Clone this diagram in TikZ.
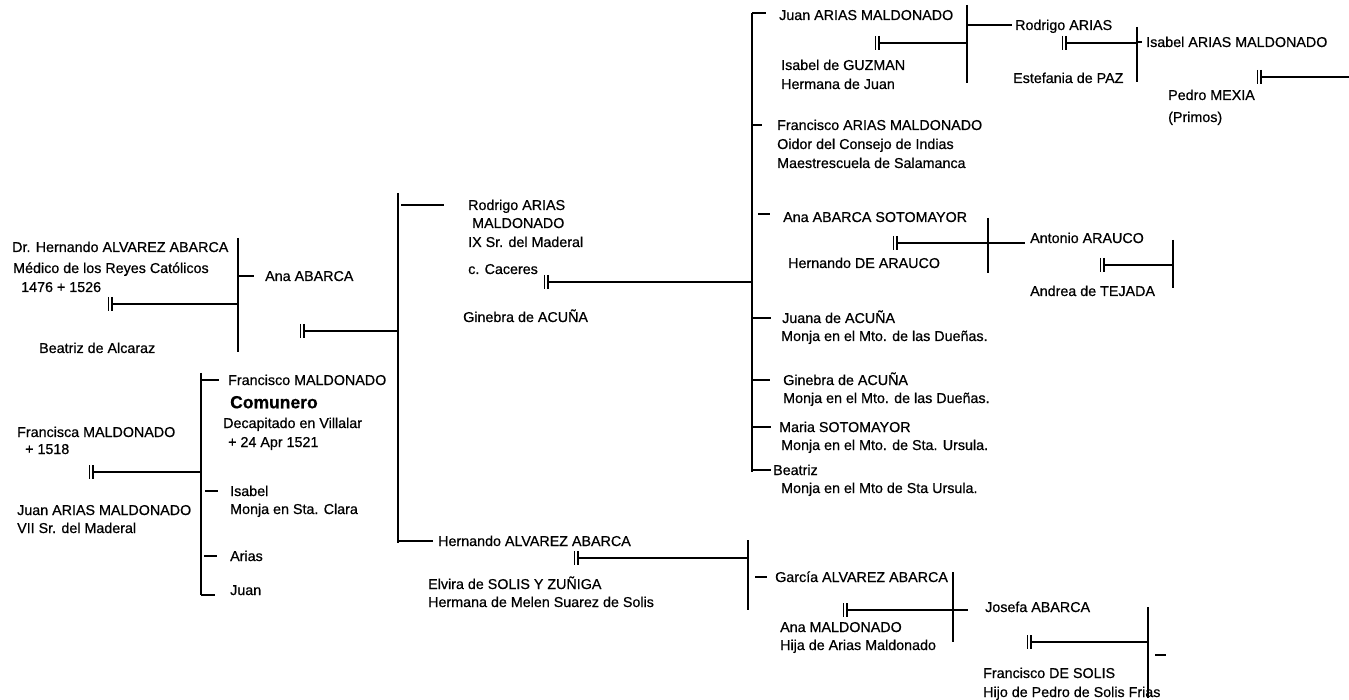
\documentclass[tikz,border=0pt]{standalone}
\usepackage{fontspec}
\setmainfont{Liberation Sans}[FakeBold=0.6]
\begin{document}
\begin{tikzpicture}[x=1pt,y=-1pt,
  t/.style={anchor=west,inner sep=0pt,font=\fontsize{14.3}{16}\selectfont,text height=10pt,text depth=0pt},
  big/.style={anchor=west,inner sep=0pt,font=\fontsize{17.5}{19}\selectfont\bfseries,text height=12.5pt,text depth=0pt},
  ln/.style={line width=1.1pt},
  vb/.style={line width=1.4pt},
  marr/.pic={\draw[line width=1.1pt] (-3.5,-7)--(-3.5,7) (0,-7)--(0,7);}]
\useasboundingbox[fill=white] (0,0) rectangle (1349,700);

% ---------------- left top: Hernando + Beatriz -> Ana ABARCA
\node[t] (hern1) at (12,247) {Dr. Hernando ALVAREZ ABARCA};
\node[t] (hern2) at (13,268) {Médico de los Reyes Católicos};
\node[t] (hern3) at (21,287) {1476 + 1526};
\node[t] (beat) at (39,348) {Beatriz de Alcaraz};
\coordinate (m1) at (112,304);
\pic at (m1) {marr};
\coordinate (v1t) at (238,238);
\coordinate (v1b) at (238,352);
\draw[vb] (v1t) -- (v1b);
\draw[ln] (m1) -- (m1 -| v1t);
\node[t] (anaA) at (265,276) {Ana ABARCA};
\draw[ln] (anaA.west -| v1t) -- ++(16,0);

% ---------------- Ana ABARCA marriage -> children vertical at 398
\coordinate (m2) at (304,331);
\pic at (m2) {marr};
\coordinate (v2t) at (398,193);
\coordinate (v2b) at (398,543);
\draw[vb] (v2t) -- (v2b);
\draw[ln] (m2) -- (m2 -| v2t);

% ---------------- left bottom: Francisca + Juan -> children vertical at 201
\node[t] (fca1) at (17,432) {Francisca MALDONADO};
\node[t] (fca2) at (25,449) {+ 1518};
\node[t] (jam1) at (17,510) {Juan ARIAS MALDONADO};
\node[t] (jam2) at (17,528) {VII Sr. del Maderal};
\coordinate (m3) at (93,472);
\pic at (m3) {marr};
\coordinate (v3t) at (201,373);
\coordinate (v3b) at (201,595);
\draw[vb] (v3t) -- (v3b);
\draw[ln] (m3) -- (m3 -| v3t);
\node[t] (fm1) at (228,380) {Francisco MALDONADO};
\node[big] (fm2) at (230,402) {Comunero};
\node[t] (fm3) at (223,423) {Decapitado en Villalar};
\node[t] (fm4) at (228,442) {+ 24 Apr 1521};
\draw[ln] (fm1.west -| v3t) -- ++(18,0);
\node[t] (isa1) at (230,491) {Isabel};
\node[t] (isa2) at (230,509) {Monja en Sta. Clara};
\draw[ln] (isa1.west -| v3t) ++(4,0) -- ++(13,0);
\node[t] (arias) at (230,556) {Arias};
\draw[ln] (arias.west -| v3t) ++(3,0) -- ++(13,0);
\node[t] (juan) at (230,590) {Juan};
\draw[ln] (v3b) -- ++(14,0);

% ---------------- Rodrigo ARIAS MALDONADO + Ginebra de ACUÑA
\node[t] (rod1) at (468,205) {Rodrigo ARIAS};
\node[t] (rod2) at (472,223) {MALDONADO};
\node[t] (rod3) at (468,242) {IX Sr. del Maderal};
\node[t] (rod4) at (468,269) {c. Caceres};
\node[t] (gin) at (463,317) {Ginebra de ACUÑA};
\draw[ln] (rod1.west -| v2t) ++(3,0) -- ++(43,0);
\coordinate (m4) at (548,282);
\pic at (m4) {marr};
\coordinate (v4t) at (752,13);
\coordinate (v4b) at (752,472);
\draw[vb] (v4t) -- (v4b);
\draw[ln] (m4) -- (m4 -| v4t);

% ---------------- children of Rodrigo
\node[t] (j1) at (779,15) {Juan ARIAS MALDONADO};
\draw[ln] (v4t) -- ++(14,0);
\node[t] (ig1) at (781,65) {Isabel de GUZMAN};
\node[t] (ig2) at (781,84) {Hermana de Juan};
\coordinate (m5) at (879,43);
\pic at (m5) {marr};
\coordinate (v5t) at (967,5);
\coordinate (v5b) at (967,83);
\draw[vb] (v5t) -- (v5b);
\draw[ln] (m5) -- (m5 -| v5t);
\node[t] (ra) at (1015,25) {Rodrigo ARIAS};
\draw[ln] (ra.west -| v5t) -- ([xshift=-3pt]ra.west);
\node[t] (ep) at (1013,78) {Estefania de PAZ};
\coordinate (m6) at (1066,43);
\pic at (m6) {marr};
\coordinate (v6t) at (1137,27);
\coordinate (v6b) at (1137,82);
\draw[vb] (v6t) -- (v6b);
\draw[ln] (m6) -- (m6 -| v6t);
\node[t] (iam) at (1146,42) {Isabel ARIAS MALDONADO};
\draw[ln] (iam.west -| v6t) -- ++(5,0);
\coordinate (m7) at (1261,77);
\pic at (m7) {marr};
\coordinate (e7) at (1349,77);
\draw[ln] (m7) -- (e7);
\node[t] (pm) at (1168,95) {Pedro MEXIA};
\node[t] (prim) at (1168,117) {(Primos)};

\node[t] (fam1) at (777,125) {Francisco ARIAS MALDONADO};
\node[t] (fam2) at (777,144) {Oidor del Consejo de Indias};
\node[t] (fam3) at (777,163) {Maestrescuela de Salamanca};
\draw[ln] (fam1.west -| v4t) -- ++(10,0);

\node[t] (aas) at (783,217) {Ana ABARCA SOTOMAYOR};
\draw[ln] (aas.west -| v4t) ++(6,-3) -- ++(12,0);
\node[t] (hda) at (788,263) {Hernando DE ARAUCO};
\coordinate (m8) at (897,243);
\pic at (m8) {marr};
\coordinate (v8t) at (988,218);
\coordinate (v8b) at (988,273);
\draw[vb] (v8t) -- (v8b);
\node[t] (aa) at (1030,238) {Antonio ARAUCO};
\coordinate (e8) at (1025,243);
\draw[ln] (m8) -- (e8);
\node[t] (at) at (1030,291) {Andrea de TEJADA};
\coordinate (m9) at (1104,265);
\pic at (m9) {marr};
\coordinate (v9t) at (1173,240);
\coordinate (v9b) at (1173,288);
\draw[vb] (v9t) -- (v9b);
\draw[ln] (m9) -- (m9 -| v9t);

\node[t] (ja1) at (782,318) {Juana de ACUÑA};
\node[t] (ja2) at (781,336) {Monja en el Mto. de las Dueñas.};
\draw[ln] (ja1.west -| v4t) -- ++(19,0);
\node[t] (ga1) at (783,380) {Ginebra de ACUÑA};
\node[t] (ga2) at (783,398) {Monja en el Mto. de las Dueñas.};
\draw[ln] (ga1.west -| v4t) -- ++(18,0);
\node[t] (ms1) at (779,427) {Maria SOTOMAYOR};
\node[t] (ms2) at (781,445) {Monja en el Mto. de Sta. Ursula.};
\draw[ln] (ms1.west -| v4t) -- ++(19,0);
\node[t] (b1) at (773,470) {Beatriz};
\node[t] (b2) at (781,488) {Monja en el Mto de Sta Ursula.};
\draw[ln] (b1.west -| v4t) -- ++(19,0);

% ---------------- Hernando ALVAREZ ABARCA + Elvira
\node[t] (ha1) at (438,541) {Hernando ALVAREZ ABARCA};
\draw[ln] (ha1.west -| v2t) -- ([xshift=-5pt]ha1.west);
\node[t] (elv1) at (428,584) {Elvira de SOLIS Y ZUÑIGA};
\node[t] (elv2) at (428,602) {Hermana de Melen Suarez de Solis};
\coordinate (m10) at (578,558);
\pic at (m10) {marr};
\coordinate (v10t) at (748,540);
\coordinate (v10b) at (748,610);
\draw[vb] (v10t) -- (v10b);
\draw[ln] (m10) -- (m10 -| v10t);
\node[t] (ga) at (775,577) {García ALVAREZ ABARCA};
\draw[ln] (ga.west -| v10t) ++(7,0) -- ++(12,0);
\node[t] (am1) at (780,627) {Ana MALDONADO};
\node[t] (am2) at (780,645) {Hija de Arias Maldonado};
\coordinate (m11) at (847,610);
\pic at (m11) {marr};
\coordinate (v11t) at (953,572);
\coordinate (v11b) at (953,642);
\draw[vb] (v11t) -- (v11b);
\coordinate (e11) at (968,610);
\draw[ln] (m11) -- (e11);
\node[t] (jos) at (985,607) {Josefa ABARCA};
\node[t] (fds1) at (983,673) {Francisco DE SOLIS};
\node[t] (fds2) at (983,692) {Hijo de Pedro de Solis Frias};
\coordinate (m12) at (1031,642);
\pic at (m12) {marr};
\coordinate (v12t) at (1148,607);
\coordinate (v12b) at (1148,698);
\draw[vb] (v12t) -- (v12b);
\draw[ln] (m12) -- (m12 -| v12t);
\coordinate (c12) at (1155,655);
\draw[ln] (c12) -- ++(11,0);
\end{tikzpicture}
\end{document}
